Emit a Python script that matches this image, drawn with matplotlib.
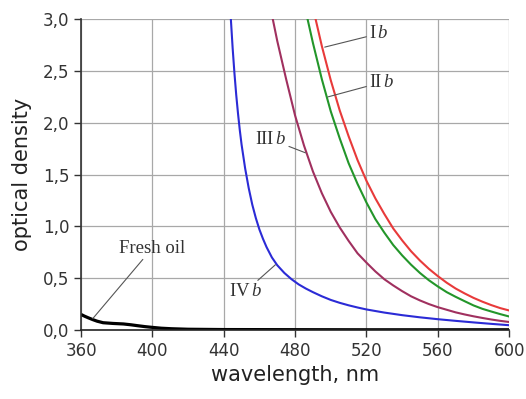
import numpy as np
import matplotlib
matplotlib.use('Agg')
import matplotlib.pyplot as plt

plt.rcParams['mathtext.fontset'] = 'custom'
plt.rcParams['mathtext.rm'] = 'Liberation Serif'
plt.rcParams['mathtext.it'] = 'Liberation Serif:italic'

# spectra (wavelength nm, optical density)
wl_1b = [491.5, 495, 500, 505, 510, 515, 520, 525, 530, 535, 540, 545, 550, 555, 560,
         565, 570, 575, 580, 585, 590, 595, 600]
od_1b = [3.0, 2.74, 2.41, 2.12, 1.87, 1.64, 1.44, 1.27, 1.12, 0.98, 0.865, 0.76, 0.67, 0.59, 0.52,
         0.456, 0.40, 0.353, 0.31, 0.273, 0.24, 0.211, 0.188]

wl_2b = [487, 490, 495, 500, 505, 510, 515, 520, 525, 530, 535, 540, 545, 550, 555, 560,
         565, 570, 575, 580, 585, 590, 595, 600]
od_2b = [3.0, 2.77, 2.42, 2.11, 1.85, 1.61, 1.41, 1.23, 1.07, 0.94, 0.82, 0.72, 0.63, 0.55, 0.48, 0.42,
         0.365, 0.32, 0.278, 0.237, 0.204, 0.178, 0.153, 0.13]

wl_3b = [467.5, 470, 475, 480, 485, 490, 495, 500, 505, 510, 515, 520, 525, 530, 535, 540,
         545, 550, 555, 560, 565, 570, 575, 580, 585, 590, 595, 600]
od_3b = [3.0, 2.79, 2.42, 2.07, 1.78, 1.53, 1.32, 1.14, 0.99, 0.86, 0.74, 0.65, 0.565, 0.49, 0.43, 0.375,
         0.325, 0.285, 0.25, 0.22, 0.195, 0.17, 0.15, 0.132, 0.116, 0.101, 0.088, 0.077]

wl_4b = [444, 445, 446, 447, 448, 449, 450, 452, 454, 456, 458, 460, 462, 464, 467, 470, 474, 478,
         482, 486, 490, 495, 500, 505, 510, 515, 520, 530, 540, 550, 560, 570, 580, 590, 600]
od_4b = [3.0, 2.72, 2.48, 2.27, 2.09, 1.93, 1.79, 1.56, 1.37, 1.21, 1.08, 0.97, 0.88, 0.80, 0.70, 0.625, 0.55, 0.49,
         0.44, 0.40, 0.365, 0.325, 0.29, 0.262, 0.238, 0.217, 0.198, 0.168, 0.143, 0.122, 0.104, 0.088, 0.073, 0.059, 0.046]

wl_fresh = [360, 362, 364, 366.6, 369, 372.4, 378, 383.8, 388, 391.4, 396, 400, 405, 410.6, 420, 440, 480, 520, 560, 600]
od_fresh = [0.15, 0.133, 0.118, 0.1, 0.085, 0.07, 0.063, 0.058, 0.05, 0.042, 0.032, 0.025, 0.017, 0.012, 0.007,
            0.004, 0.003, 0.002, 0.002, 0.002]

xticks = [360, 400, 440, 480, 520, 560, 600]
yticks = [0.0, 0.5, 1.0, 1.5, 2.0, 2.5, 3.0]
ylabels = ['0,0', '0,5', '1,0', '1,5', '2,0', '2,5', '3,0']

fig = plt.figure(figsize=(5.26, 3.99), dpi=100)
ax = fig.add_axes([0.154, 0.173, 0.814, 0.779])

ax.plot(wl_4b, od_4b, color='#2b2bd6', lw=1.5)
ax.plot(wl_3b, od_3b, color='#a0305f', lw=1.5)
ax.plot(wl_2b, od_2b, color='#23962a', lw=1.5)
ax.plot(wl_1b, od_1b, color='#e83a3a', lw=1.5)
ax.plot(wl_fresh, od_fresh, color='black', lw=2.3, solid_capstyle='butt')

ax.set_xlim(360, 600)
ax.set_ylim(0, 3.0)
ax.set_xticks(xticks)
ax.set_yticks(yticks)
ax.set_yticklabels(ylabels)
ax.grid(True, color='#a8a8a8', lw=0.9)
ax.set_axisbelow(True)
for s in ['top', 'right']:
    ax.spines[s].set_visible(False)
ax.spines['left'].set_color('#333333')
ax.spines['bottom'].set_color('#222222')
ax.spines['left'].set_linewidth(1.2)
ax.spines['bottom'].set_linewidth(1.2)
ax.tick_params(direction='out', length=5, width=1, colors='#333333', labelsize=12, labelcolor='#333333')

ax.set_xlabel('wavelength, nm', fontsize=15, color='#222222', labelpad=4)
ax.set_ylabel('optical density', fontsize=15, color='#222222', labelpad=8)

# labels with leader lines
ann = dict(fontsize=13.5, family='Liberation Serif', color='#333333', va='center')
lead = dict(arrowstyle='-', color='#555555', lw=0.8, shrinkA=0, shrinkB=0)
ax.annotate(r'I$\,\mathit{b}$', xy=(496.6, 2.73), xytext=(521.5, 2.86), arrowprops=lead, ha='left', **ann)
ax.annotate(r'II$\,\mathit{b}$', xy=(498.5, 2.25), xytext=(521.5, 2.39), arrowprops=lead, ha='left', **ann)
ax.annotate(r'III$\,\mathit{b}$', xy=(485.8, 1.71), xytext=(475, 1.84), arrowprops=lead, ha='right', **ann)
ax.annotate(r'IV$\,\mathit{b}$', xy=(469, 0.63), xytext=(452, 0.37), arrowprops=lead, ha='center', **ann)
ax.annotate('Fresh oil', xy=(366.6, 0.11), xytext=(400, 0.79), arrowprops=lead, ha='center', **ann)

fig.savefig('out.png', dpi=100)
